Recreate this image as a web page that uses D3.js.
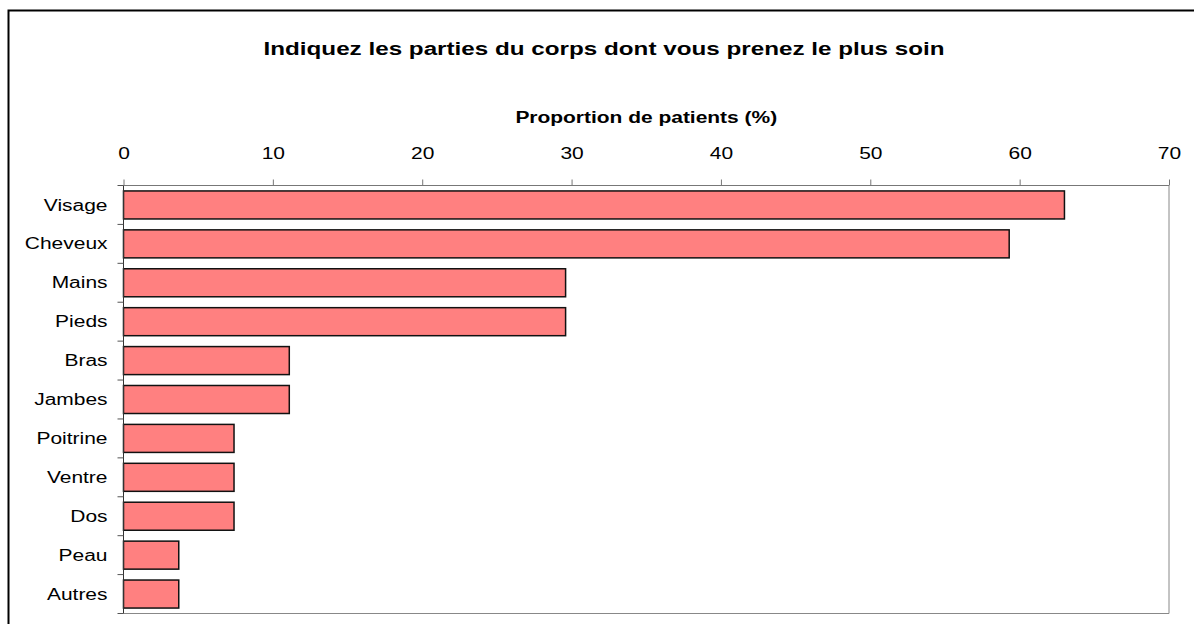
<!DOCTYPE html>
<html><head><meta charset="utf-8">
<script src="https://cdn.jsdelivr.net/npm/d3@7"></script>
<style>body{margin:0;background:#fff}svg{display:block;font-family:"Liberation Sans",Arial,sans-serif}</style>
</head><body>
<svg id="c" width="1194" height="624"></svg>
<script>
const categories = ["Visage","Cheveux","Mains","Pieds","Bras","Jambes","Poitrine","Ventre","Dos","Peau","Autres"];
const values = [63.0,59.3,29.6,29.6,11.1,11.1,7.4,7.4,7.4,3.7,3.7];
const tickValues = [0,10,20,30,40,50,60,70];
const title = "Indiquez les parties du corps dont vous prenez le plus soin";
const axisTitle = "Proportion de patients (%)";

(function(){
const sx = 1.31;
const svg = d3.select("#c");
svg.append("rect").attr("x",8.5).attr("y",10.5).attr("width",1200).attr("height",700)
  .attr("fill","none").attr("stroke","#000").attr("stroke-width",2);

const pL = 123.5, pR = 1169, pT = 185.5, pB = 613.5;
const x = d3.scaleLinear().domain([0,70]).range([pL,pR]);
const y = d3.scaleBand().domain(categories).range([pT,pB]).paddingInner(0.28).paddingOuter(0.14);

svg.append("line").attr("x1",pR).attr("x2",pR).attr("y1",pT).attr("y2",pB).attr("stroke","#888").attr("stroke-width",1);
svg.append("line").attr("x1",pL).attr("x2",pR).attr("y1",pB).attr("y2",pB).attr("stroke","#888").attr("stroke-width",1);

svg.append("g").selectAll("rect").data(values).join("rect")
  .attr("x",x(0)).attr("y",(d,i)=>y(categories[i]))
  .attr("width",d=>x(d)-x(0)).attr("height",y.bandwidth())
  .attr("fill","#FF8080").attr("stroke","#111").attr("stroke-width",1.5);

const xAxis = d3.axisTop(x).tickValues(tickValues).tickSize(6).tickPadding(21).tickFormat(d3.format("d"));
const gx = svg.append("g").attr("transform",`translate(0,${pT})`).call(xAxis);
gx.select(".domain").attr("stroke","#777").attr("d",`M${pL},0H${pR}`);
gx.selectAll(".tick line").attr("stroke","#777");
gx.selectAll("text").attr("font-size",16).attr("fill","#000")
  .attr("font-family","Liberation Sans, Arial, sans-serif").attr("transform",`scale(${sx},1)`);

const boundaries = d3.range(categories.length+1).map(i=>pT + i*(pB-pT)/categories.length);
const gy = svg.append("g");
gy.append("line").attr("x1",pL).attr("x2",pL).attr("y1",pT).attr("y2",pB).attr("stroke","#333");
gy.selectAll("line.t").data(boundaries).join("line").attr("class","t")
  .attr("x1",pL-6).attr("x2",pL).attr("y1",d=>d).attr("y2",d=>d).attr("stroke","#555");
gy.selectAll("text").data(categories).join("text")
  .attr("transform",d=>`translate(${pL-16},${y(d)+y.bandwidth()/2}) scale(${sx},1)`).attr("dy","0.35em")
  .attr("text-anchor","end").attr("font-size",16).text(d=>d);

svg.append("text").attr("transform",`translate(604,55) scale(${sx},1)`).attr("text-anchor","middle")
  .attr("font-size",18.5).attr("font-weight","bold").text(title);
svg.append("text").attr("transform",`translate(${(pL+pR)/2},123) scale(${sx},1)`).attr("text-anchor","middle")
  .attr("font-size",16).attr("font-weight","bold").text(axisTitle);
})();
</script>
</body></html>
